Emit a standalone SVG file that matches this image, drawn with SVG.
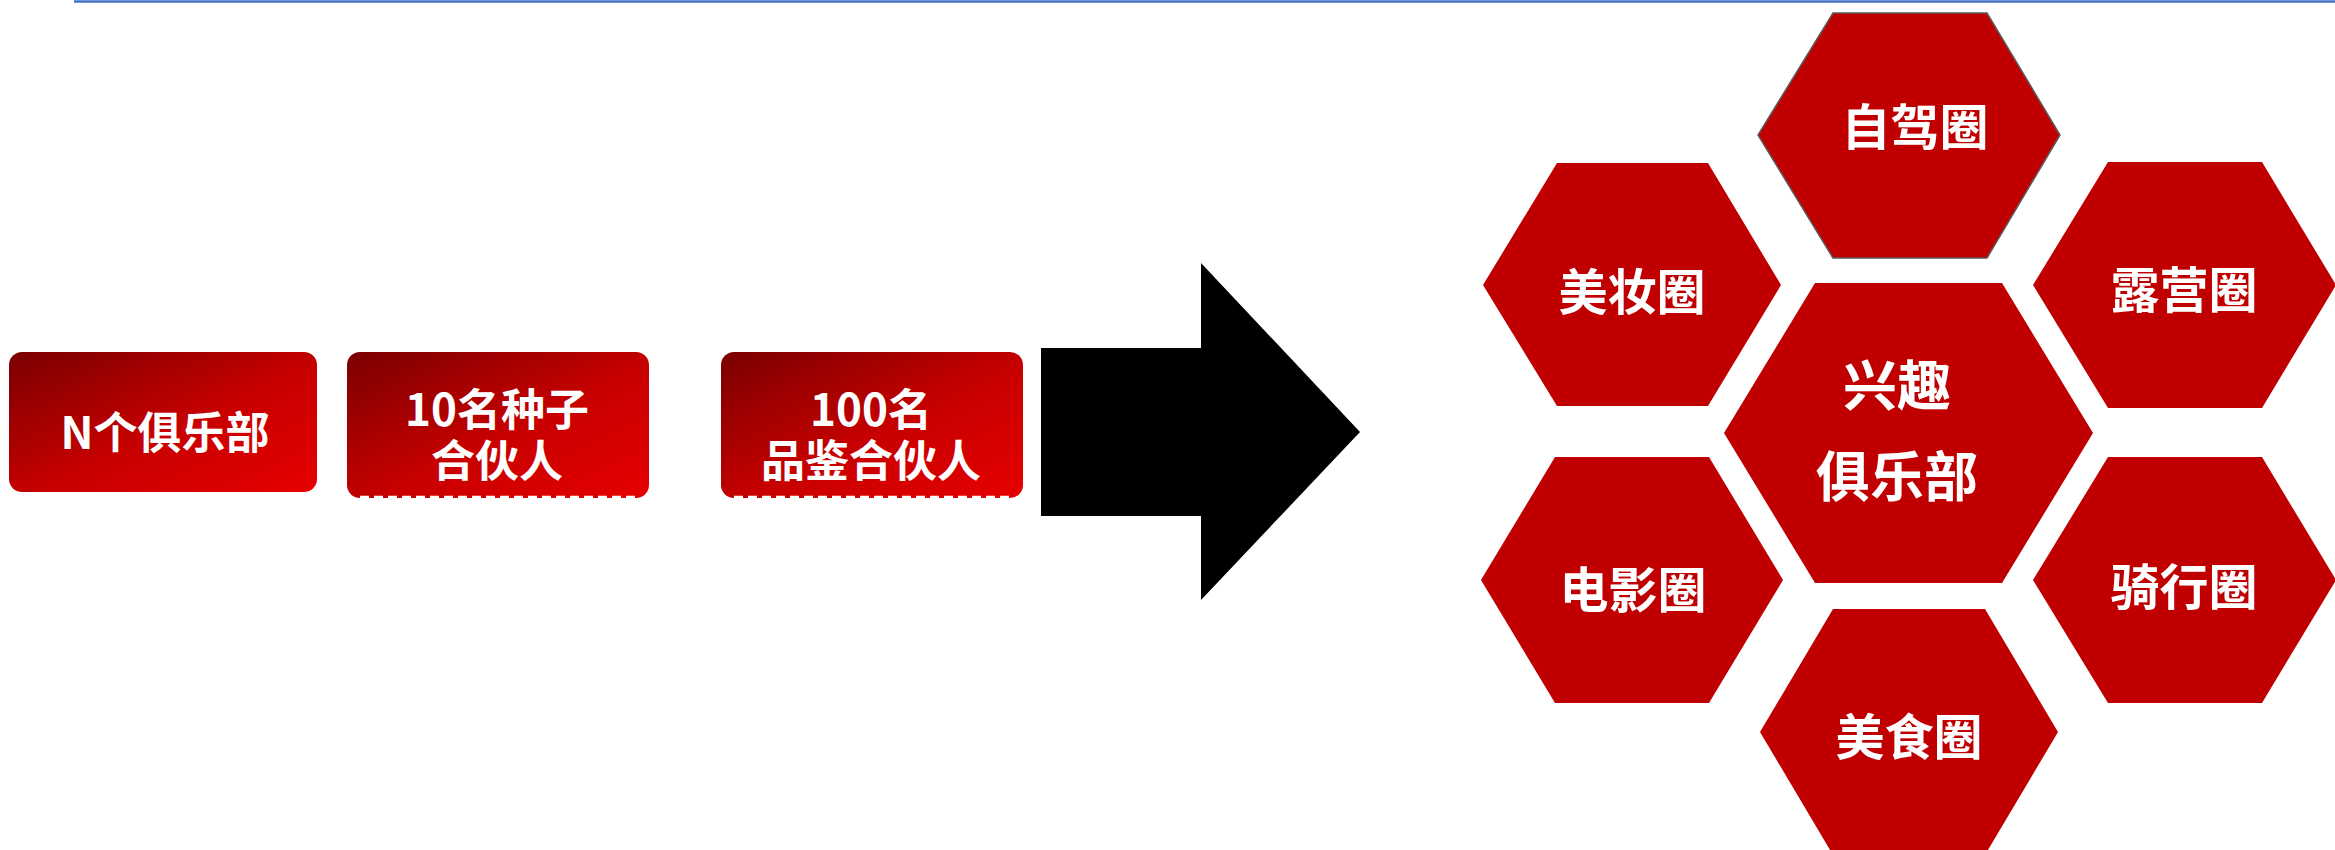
<svg xmlns="http://www.w3.org/2000/svg" width="2335" height="850" viewBox="0 0 2335 850">
<defs>
<linearGradient id="boxGrad" x1="0" y1="0" x2="1" y2="1">
<stop offset="0" stop-color="#7a0000"/>
<stop offset="0.55" stop-color="#c80000"/>
<stop offset="1" stop-color="#e60000"/>
</linearGradient>
</defs>
<style>
.box{fill:url(#boxGrad);}
.dash{stroke:#ffffff;stroke-width:2.5;stroke-dasharray:9 5;fill:none;}
.hex{fill:#c00000;}
.hexb{fill:#c00000;stroke:#5a5a5a;stroke-width:1.5;}
.t{fill:#ffffff;font-family:"Noto Sans CJK SC","Noto Sans",sans-serif;font-weight:bold;text-anchor:middle;}
.tb{font-size:44px;}
.th{font-size:49px;}
.tc{font-size:54px;}
</style>
<rect width="2335" height="850" fill="#ffffff"/>
<line x1="74" y1="1.5" x2="2335" y2="1.5" stroke="#4472c4" stroke-width="2.5"/>

<g id="box1">
<rect class="box" x="9" y="352" width="308" height="140" rx="13"/>
<text class="t tb" x="165" y="449">N个俱乐部</text>
</g>
<g id="box2">
<rect class="box" x="347" y="352" width="302" height="146" rx="13"/>
<line class="dash" x1="360" y1="497" x2="636" y2="497"/>
<text class="t tb" x="497" y="426">10名种子<tspan x="497" dy="51">合伙人</tspan></text>
</g>
<g id="box3">
<rect class="box" x="721" y="352" width="302" height="146" rx="13"/>
<line class="dash" x1="734" y1="497" x2="1010" y2="497"/>
<text class="t tb" x="871" y="426">100名<tspan x="871" dy="51">品鉴合伙人</tspan></text>
</g>

<g id="connectors">
<polygon points="1041,348 1201,348 1201,263 1360,432 1201,600 1201,516 1041,516" fill="#000000"/>
</g>

<g id="hex-zijia">
<polygon class="hexb" points="1833,13 1987,13 2060,135 1987,258 1833,258 1758,135"/>
<text class="t th" x="1915" y="145">自驾圈</text>
</g>
<g id="hex-meizhuang">
<polygon class="hex" points="1557,163 1708,163 1781,285 1708,406 1557,406 1483,285"/>
<text class="t th" x="1632" y="310">美妆圈</text>
</g>
<g id="hex-luying">
<polygon class="hex" points="2108,162 2262,162 2336,285 2262,408 2108,408 2033,285"/>
<text class="t th" x="2184" y="308">露营圈</text>
</g>
<g id="hex-center">
<polygon class="hex" points="1815,283 2002,283 2093,433 2002,583 1815,583 1724,433"/>
<text class="t tc" x="1897" y="406">兴趣<tspan x="1897" dy="91">俱乐部</tspan></text>
</g>
<g id="hex-dianying">
<polygon class="hex" points="1555,457 1709,457 1783,580 1709,703 1555,703 1481,580"/>
<text class="t th" x="1633" y="608">电影圈</text>
</g>
<g id="hex-qixing">
<polygon class="hex" points="2108,457 2262,457 2336,580 2262,703 2108,703 2033,580"/>
<text class="t th" x="2184" y="605">骑行圈</text>
</g>
<g id="hex-meishi">
<polygon class="hex" points="1833,609 1985,609 2058,732 1985,855 1833,855 1760,732"/>
<text class="t th" x="1909" y="755">美食圈</text>
</g>
</svg>
